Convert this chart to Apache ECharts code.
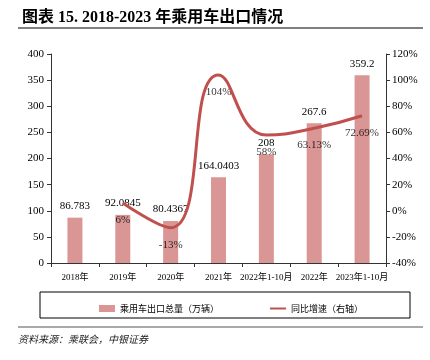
<!DOCTYPE html>
<html><head><meta charset="utf-8">
<script src="https://cdn.jsdelivr.net/npm/echarts@6/dist/echarts.min.js"></script>
<style>html,body{margin:0;padding:0;background:#fff}#c{width:430px;height:360px}</style>
</head><body><div id="c"></div>
<script>
const categories = ['2018年','2019年','2020年','2021年','2022年1-10月','2022年','2023年1-10月'];
const exportVolume = [86.783, 92.0845, 80.4367, 164.0403, 208, 267.6, 359.2];
const exportLabels = ['86.783','92.0845','80.4367','164.0403','208','267.6','359.2'];
const growthRate = [null, 6, -13, 104, 58, 63.13, 72.69];
const growthLabels = ['', '6%', '-13%', '104%', '58%', '63.13%', '72.69%'];
const leftTicks = [0, 400, 50];
const rightTicks = [-40, 120, 20];

const serif = '"Liberation Serif","Noto Sans CJK SC",serif';
const cjk = '"Noto Sans CJK SC",sans-serif';
const chart = echarts.init(document.getElementById('c'));
chart.setOption({
  animation: false,
  backgroundColor: '#fff',
  title: {
    text: '图表 15. 2018-2023 年乘用车出口情况',
    left: 17, top: 5,
    textStyle: {fontFamily: serif, fontSize: 16, fontWeight: 'bold', color: '#000'}
  },
  graphic: [
    {type: 'line', shape: {x1: 18, y1: 28, x2: 423, y2: 28}, style: {stroke: '#000', lineWidth: 1}},
    {type: 'rect', shape: {x: 40, y: 292, width: 370, height: 26}, style: {fill: 'none', stroke: '#000', lineWidth: 1}},
    {type: 'line', shape: {x1: 18, y1: 327, x2: 423, y2: 327}, style: {stroke: '#555', lineWidth: 1}},
    {type: 'text', left: 18, top: 334, style: {text: '资料来源：乘联会，中银证券', fontFamily: cjk, fontStyle: 'italic', fontSize: 10, fill: '#222'}}
  ],
  legend: {
    left: 94, top: 299, itemGap: 50,
    itemWidth: 16, itemHeight: 7,
    textStyle: {fontFamily: cjk, fontSize: 9, color: '#000'},
    data: [
      {name: '乘用车出口总量（万辆）', icon: 'rect'},
      {name: '同比增速（右轴）', itemStyle: {opacity: 0}}
    ]
  },
  grid: {left: 51, right: 44, top: 54, bottom: 97},
  xAxis: {
    type: 'category', data: categories,
    axisLine: {lineStyle: {color: '#333'}},
    axisTick: {show: true, alignWithLabel: false, length: 4, lineStyle: {color: '#333'}},
    axisLabel: {fontFamily: serif, fontSize: 9, color: '#000', margin: 10, interval: 0}
  },
  yAxis: [
    {type: 'value', min: leftTicks[0], max: leftTicks[1], interval: leftTicks[2],
     splitLine: {show: false},
     axisLine: {show: true, lineStyle: {color: '#333'}},
     axisTick: {show: true, length: 4, lineStyle: {color: '#333'}},
     axisLabel: {fontFamily: serif, fontSize: 11, color: '#000', margin: 7}},
    {type: 'value', min: rightTicks[0], max: rightTicks[1], interval: rightTicks[2],
     splitLine: {show: false},
     axisLine: {show: true, lineStyle: {color: '#333'}},
     axisTick: {show: true, length: 4, lineStyle: {color: '#333'}},
     axisLabel: {fontFamily: serif, fontSize: 11, color: '#000', margin: 6, formatter: '{value}%'}}
  ],
  series: [
    {name: '乘用车出口总量（万辆）', type: 'bar', data: exportVolume, barWidth: 15,
     itemStyle: {color: '#d99694'},
     label: {show: true, position: 'top', distance: 6, fontFamily: serif, fontSize: 11, color: '#000',
             formatter: p => exportLabels[p.dataIndex]}},
    {name: '同比增速（右轴）', type: 'line', yAxisIndex: 1, data: growthRate, smooth: 0.5,
     symbol: 'none', lineStyle: {color: '#c0504d', width: 3}, itemStyle: {color: '#c0504d'}},
    {name: 'labels', type: 'scatter', yAxisIndex: 1, data: growthRate, symbolSize: 1,
     itemStyle: {color: 'rgba(0,0,0,0)'}, silent: true,
     label: {show: true, position: 'bottom', distance: 11, fontFamily: serif, fontSize: 11, color: '#000',
             formatter: p => growthLabels[p.dataIndex]}}
  ]
});
</script></body></html>
